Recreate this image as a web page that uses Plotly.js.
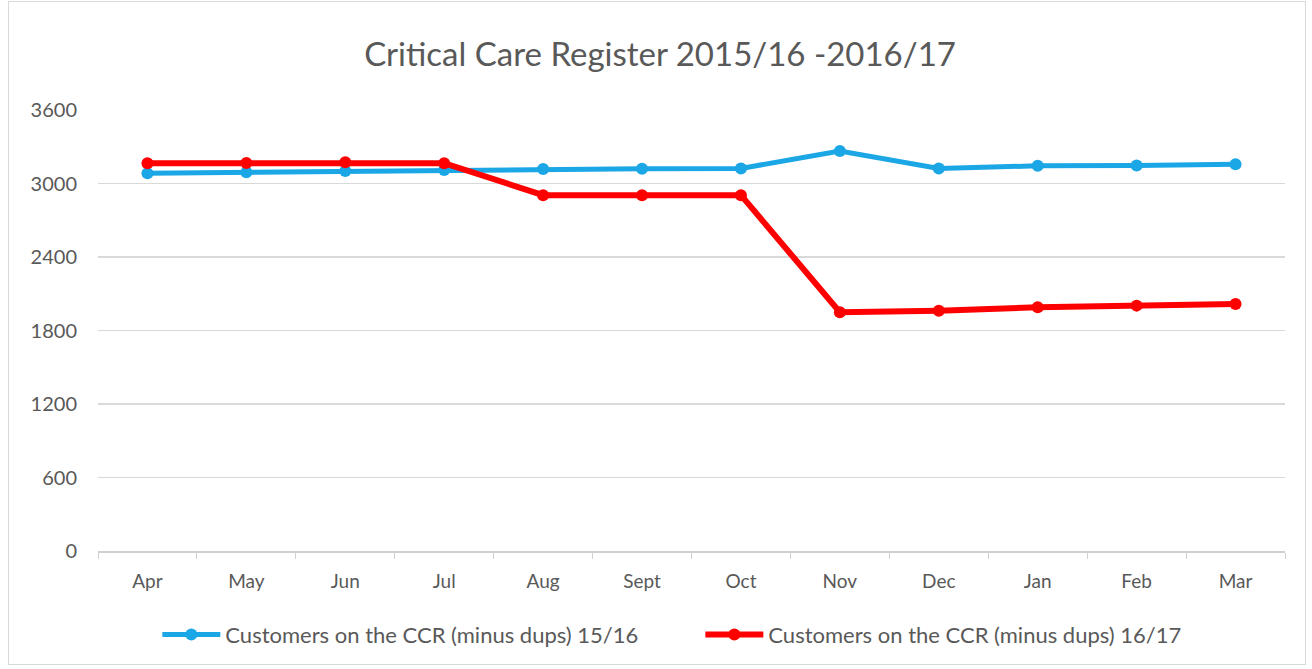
<!DOCTYPE html>
<html>
<head>
<meta charset="utf-8">
<script src="https://cdn.plot.ly/plotly-3.0.1.min.js"></script>
<style>
html,body{margin:0;padding:0;background:#fff;}
#chart{width:1312px;height:669px;}
#frame{position:absolute;left:8px;top:1px;width:1298px;height:664px;border:1px solid #d9d9d9;pointer-events:none;box-sizing:border-box;}
</style>
</head>
<body>
<div id="chart"></div>
<div id="frame"></div>
<script>
const months = ["Apr","May","Jun","Jul","Aug","Sept","Oct","Nov","Dec","Jan","Feb","Mar"];
const series1516 = [3083, 3091, 3102, 3111, 3118, 3120, 3123, 3265, 3123, 3144, 3147, 3158];
const series1617 = [3166, 3168, 3174, 3166, 2905, 2905, 2905, 1949, 1962, 1989, 2003, 2016];
const name1516 = "Customers on the CCR (minus dups) 15/16";
const name1617 = "Customers on the CCR (minus dups) 16/17";
const yTicks = [0, 600, 1200, 1800, 2400, 3000, 3600];

const font = "Lato, 'Open Sans', sans-serif";
const traces = [
  {x: months, y: series1516, name: name1516, type: "scatter", mode: "lines+markers",
   line: {color: "#1ba6e6", width: 5}, marker: {color: "#1ba6e6", size: 12}},
  {x: months, y: series1617, name: name1617, type: "scatter", mode: "lines+markers",
   line: {color: "#ff0000", width: 6}, marker: {color: "#ff0000", size: 12}}
];
const layout = {
  width: 1312, height: 669,
  margin: {l: 98, r: 27, t: 110, b: 118},
  paper_bgcolor: "#ffffff", plot_bgcolor: "#ffffff",
  font: {family: font, color: "#595959", size: 19},
  title: {text: "Critical Care Register 2015/16 -2016/17", x: 0.4735, xref: "paper", xanchor: "center",
          y: 0.918, yanchor: "middle",
          font: {family: font, size: 33, color: "#595959"}},
  xaxis: {type: "category", range: [-0.5, 11.5], showgrid: false, showline: true, linecolor: "#d0d0d0", linewidth: 1.5,
          ticks: "outside", tickson: "boundaries", ticklen: 6, tickcolor: "#d0d0d0",
          ticklabelstandoff: 13,
          tickfont: {size: 19, color: "#595959"}, zeroline: false, fixedrange: true},
  yaxis: {range: [0, 3600], tickvals: yTicks, ticktext: yTicks.map(String), showgrid: true,
          gridcolor: "#d9d9d9", gridwidth: 1.5, zeroline: false, showline: false, ticks: "",
          ticklabelstandoff: 20, tickfont: {size: 20, color: "#595959"}},
  showlegend: true,
  legend: {orientation: "h", x: 0.05, xanchor: "left", y: -0.19, yanchor: "middle",
           font: {size: 22, color: "#595959"}, itemwidth: 58, entrywidth: 470, entrywidthmode: "pixels"},
  hovermode: false
};
Plotly.newPlot("chart", traces, layout, {displayModeBar: false, staticPlot: true});
</script>
</body>
</html>
